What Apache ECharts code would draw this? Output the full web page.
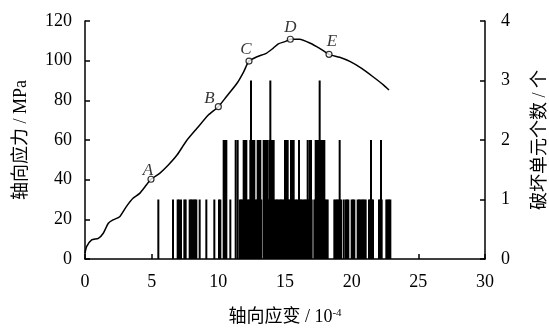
<!DOCTYPE html>
<html>
<head>
<meta charset="utf-8">
<script src="https://cdn.jsdelivr.net/npm/echarts@6/dist/echarts.min.js"></script>
<style>
  html, body { margin: 0; padding: 0; background: #fff; }
  #chart { width: 549px; height: 329px; }
</style>
</head>
<body>
<div id="chart"></div>
<script>
// stress-strain curve (strain in 1e-4, stress in MPa)
const strain = [0, 0.12, 0.5, 1.0, 1.37, 1.75, 2.1, 2.6, 3.1, 3.6, 4.1, 4.6, 4.95, 5.6, 6.25, 6.9, 7.6, 8.4, 9.25, 10.0,
  10.6, 11.4, 11.9, 12.3, 12.9, 13.6, 14.1, 14.5, 15.0, 15.4, 16.1, 16.9, 17.6, 18.3, 19.1, 19.9, 20.75, 21.6, 22.4, 22.8];
const stress = [2.9, 6.2, 9.6, 10.4, 13, 18, 19.7, 21.3, 26.4, 30.6, 33.1, 37.3, 40.2, 43.2, 47.4, 52.4, 59.5, 65.9, 72.6, 76.8,
  81.8, 88.6, 94.4, 99.8, 102, 103.7, 106.2, 108.5, 109.6, 110.8, 110.8, 108.8, 106.2, 103.2, 101.7, 99.5, 96.1, 91.9, 87.7, 85.2];

// marked points A-E
const keyNames = ['A', 'B', 'C', 'D', 'E'];
const keyStrain = [4.95, 10.0, 12.3, 15.4, 18.3];
const keyStress = [40.2, 76.8, 99.8, 110.8, 103.2];

// strain positions of failed elements, by count
const fail1 = [5.5, 6.6, 6.95, 7.05, 7.2, 7.45, 7.55, 7.85, 7.95, 8.05, 8.15, 8.25, 8.35, 8.6, 9.1, 9.7, 10.05, 10.15, 10.9,
  11.6, 11.7, 11.8, 11.9, 12.0, 12.1, 12.2, 12.3, 12.4, 12.5, 12.6, 12.7, 12.8, 12.9, 13.0, 13.1, 13.2,
  13.4, 13.5, 13.6, 13.7, 13.8, 13.9, 14.0, 14.1, 14.2, 14.3, 14.4, 14.5, 14.6, 14.7, 14.8, 14.9, 15.0,
  15.1, 15.2, 15.3, 15.4, 15.5, 15.6, 15.7, 15.8, 15.9, 16.1, 16.2, 16.3, 16.4, 16.5, 16.6, 16.7, 16.8,
  16.9, 17.0, 17.2, 17.3, 17.4, 17.5, 17.6, 17.7, 17.8, 17.9, 18.0, 18.1, 18.2,
  18.7, 18.8, 18.9, 19.0, 19.1, 19.2, 19.4, 19.55, 19.65, 19.75, 20.0, 20.1, 20.2,
  20.45, 20.55, 20.65, 20.75, 20.85, 20.95, 21.05, 21.3, 21.4, 21.5, 21.6, 22.05, 22.15, 22.25,
  22.6, 22.7, 22.8, 22.9];
const fail2 = [10.4, 10.5, 10.6, 11.3, 11.45, 11.9, 12.0, 12.1, 12.4, 12.5, 12.6, 12.7, 12.95, 13.05, 13.15,
  13.4, 13.5, 13.6, 13.7, 13.85, 13.95, 14.05, 14.15, 15.0, 15.1, 15.2, 15.45, 15.55, 15.65, 16.05,
  16.7, 16.85, 16.95, 17.3, 17.4, 17.5, 17.6, 17.7, 17.85, 17.95, 19.1, 21.45, 22.2];
const fail3 = [12.45, 13.9, 17.6];

const xTicks = { min: 0, max: 30, interval: 5 };
const yTicks = { min: 0, max: 120, interval: 20 };
const y2Ticks = { min: 0, max: 4, interval: 1 };

const serif = '"Liberation Serif", "Times New Roman", "Noto Sans CJK SC", serif';
const nameFont = { fontFamily: serif, fontSize: 18, color: '#000' };
const axisLine = { show: true, lineStyle: { color: '#000', width: 1.5 } };
const axisTick = { show: true, inside: true, length: 5, lineStyle: { color: '#000', width: 1.5 } };
const axisLabel = { color: '#000', fontFamily: serif, fontSize: 18 };

// label offsets from each marked point (px)
const keyOffsets = [[-3, -9], [-9, -8], [-3, -12], [0, -12], [3, -13]];

const barData = []
  .concat(fail1.map((x) => [x, 1]))
  .concat(fail2.map((x) => [x, 2]))
  .concat(fail3.map((x) => [x, 3]));

const chart = echarts.init(document.getElementById('chart'), null, { renderer: 'canvas' });
chart.setOption({
  backgroundColor: '#fff',
  animation: false,
  grid: { left: 85, right: 64, top: 21, bottom: 70, outerBoundsMode: 'none', containLabel: false },
  xAxis: {
    type: 'value',
    ...xTicks,
    name: '轴向应变 / 10{sup|-4}',
    nameLocation: 'middle',
    nameGap: 49,
    nameTextStyle: { ...nameFont, rich: { sup: { fontFamily: serif, fontSize: 11, color: '#000', verticalAlign: 'top', padding: [0, 0, 8, 0] } } },
    axisLine, axisTick,
    axisLabel: { ...axisLabel, margin: 14 },
    splitLine: { show: false },
  },
  yAxis: [
    {
      type: 'value',
      ...yTicks,
      name: '轴向应力 / MPa',
      nameLocation: 'middle',
      nameGap: 55,
      nameRotate: 90,
      nameTextStyle: nameFont,
      axisLine, axisTick,
      axisLabel: { ...axisLabel, margin: 13 },
      splitLine: { show: false },
    },
    {
      type: 'value',
      ...y2Ticks,
      position: 'right',
      name: '破坏单元个数 / 个',
      nameLocation: 'middle',
      nameGap: 46,
      nameRotate: 90,
      nameTextStyle: nameFont,
      axisLine, axisTick,
      axisLabel: { ...axisLabel, margin: 16 },
      splitLine: { show: false },
    },
  ],
  series: [
    {
      type: 'bar',
      yAxisIndex: 1,
      data: barData,
      barWidth: 2,
      itemStyle: { color: '#000' },
      z: 1,
    },
    {
      type: 'line',
      data: strain.map((x, i) => [x, stress[i]]),
      symbol: 'none',
      smooth: 0.2,
      lineStyle: { color: '#000', width: 1.5 },
      z: 3,
    },
    {
      type: 'scatter',
      data: keyStrain.map((x, i) => ({
        value: [x, keyStress[i]],
        name: keyNames[i],
        label: { offset: keyOffsets[i] },
      })),
      symbol: 'circle',
      symbolSize: 6,
      itemStyle: { color: '#fff', borderColor: '#000', borderWidth: 1.2 },
      label: {
        show: true,
        position: 'inside',
        formatter: (p) => p.name,
        fontFamily: serif,
        fontStyle: 'italic',
        fontSize: 17,
        color: '#000',
      },
      z: 4,
    },
  ],
});
</script>
</body>
</html>
